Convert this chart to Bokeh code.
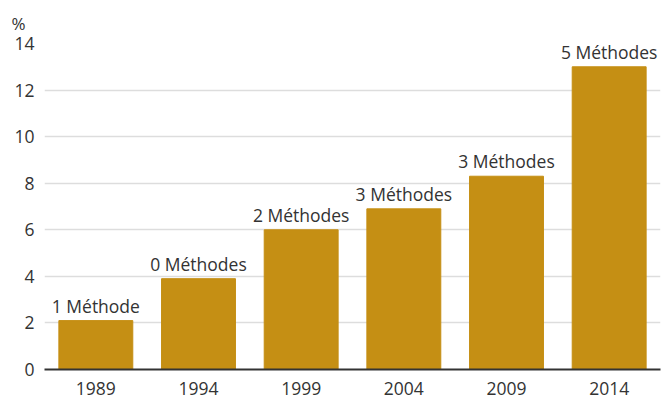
from bokeh.plotting import figure
from bokeh.models import ColumnDataSource, FixedTicker
from bokeh.core.properties import value
from bokeh.embed import file_html
from bokeh.resources import INLINE

years = ["1989", "1994", "1999", "2004", "2009", "2014"]
values = [2.1, 3.9, 6.0, 6.9, 8.3, 13.0]
labels = ["1 Méthode", "0 Méthodes", "2 Méthodes", "3 Méthodes", "3 Méthodes", "5 Méthodes"]
y_ticks = [0, 2, 4, 6, 8, 10, 12, 14]
unit = "%"

FONT = "Open Sans"
src = ColumnDataSource(dict(x=years, top=values, lab=labels))

p = figure(x_range=years, y_range=(0, 14), width=670, height=398,
           output_backend="svg", toolbar_location=None,
           min_border_left=44, min_border_right=10, min_border_top=14, min_border_bottom=29)
p.outline_line_color = None
p.title.text = unit
p.title.align = "left"
p.title.offset = -33
p.title.text_font = FONT
p.title.text_font_size = "17px"
p.title.text_font_style = "normal"
p.title.text_color = "#333333"
p.title.standoff = 18

p.vbar(x="x", top="top", width=0.72, source=src, color="#C58F14")
p.text(x="x", y="top", text="lab", source=src, text_align="center", text_baseline="bottom",
       y_offset=-3, text_font=value(FONT), text_font_size="17.5px", text_color="#333333")

p.xgrid.grid_line_color = None
p.ygrid.grid_line_color = "#dddddd"
p.ygrid.grid_line_width = 1.5
p.yaxis.ticker = FixedTicker(ticks=y_ticks)
p.yaxis.axis_line_color = None
p.yaxis.major_tick_line_color = None
p.yaxis.minor_tick_line_color = None
p.yaxis.major_label_standoff = 4
p.xaxis.major_tick_line_color = None
p.xaxis.axis_line_color = "#333333"
p.xaxis.axis_line_width = 2
p.xaxis.major_label_standoff = 6
for ax in (p.xaxis, p.yaxis):
    ax.major_label_text_font = FONT
    ax.major_label_text_font_size = "17.5px"
    ax.major_label_text_color = "#333333"

open("out.html", "w").write(file_html(p, INLINE))
